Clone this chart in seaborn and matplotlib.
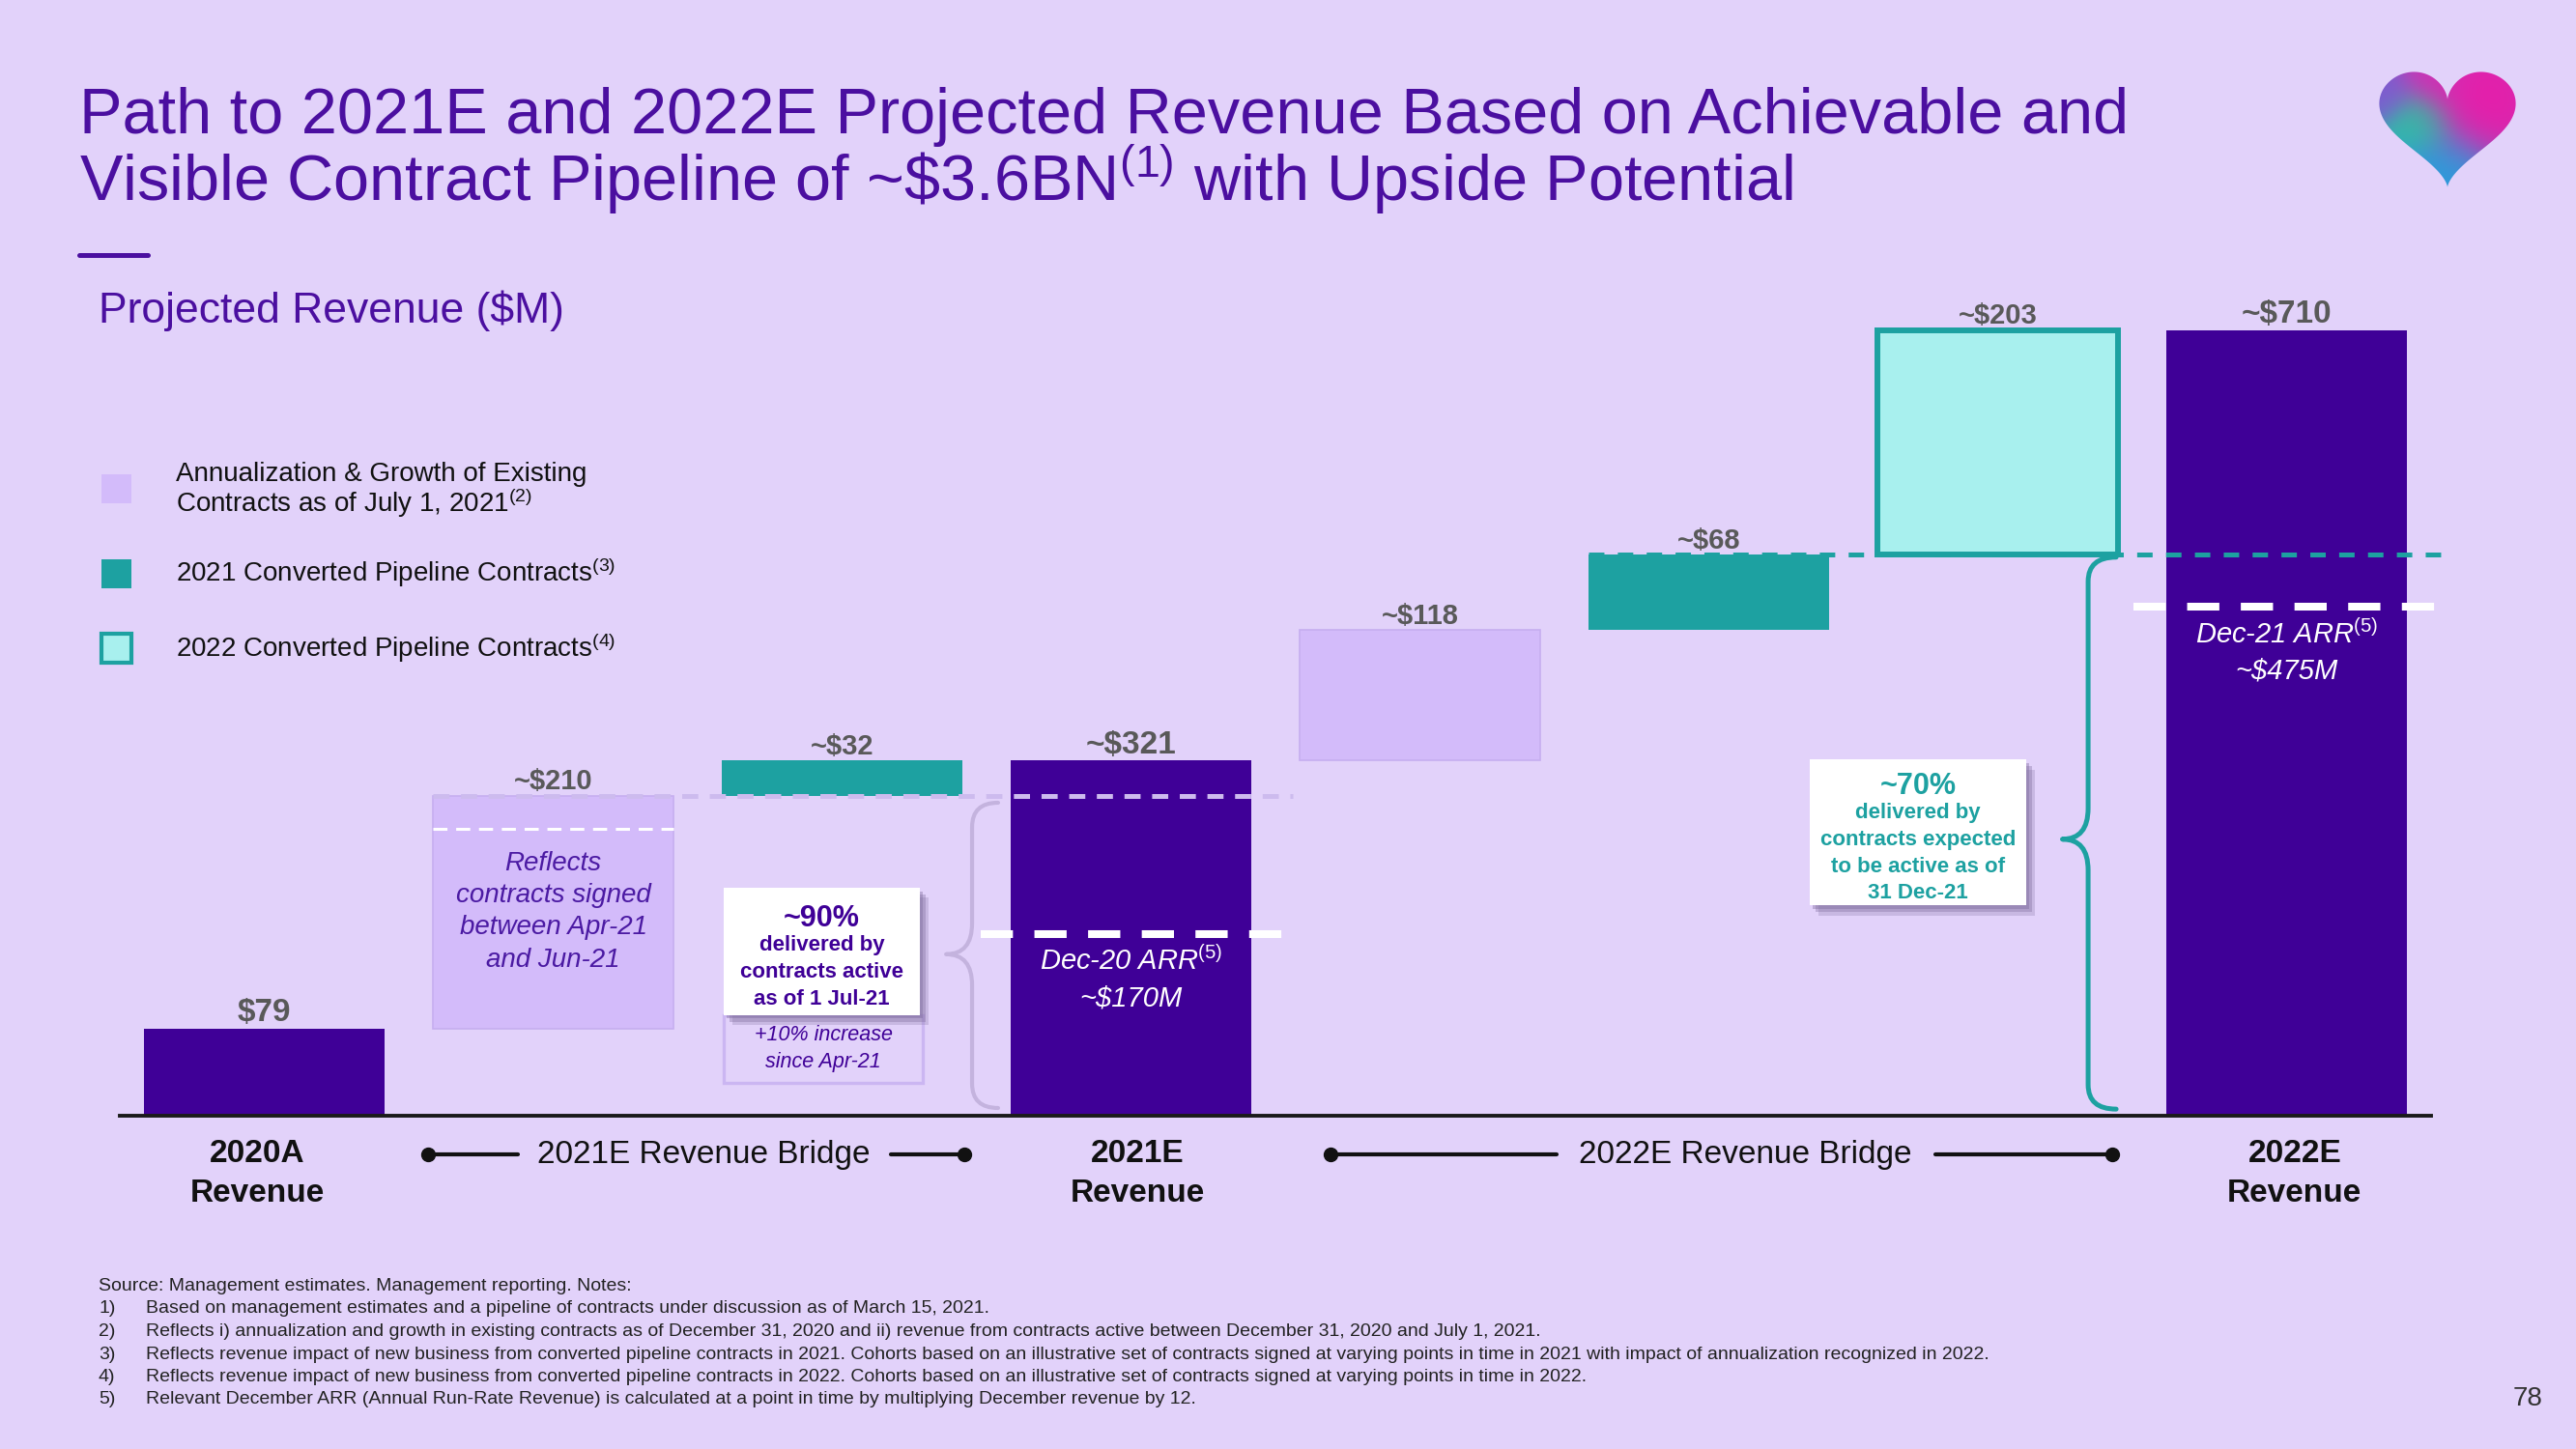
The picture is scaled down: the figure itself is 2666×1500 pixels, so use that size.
import numpy as np
import pandas as pd
import seaborn as sns
import matplotlib.pyplot as plt
from matplotlib.patches import Rectangle, PathPatch, Polygon
from matplotlib.path import Path
from matplotlib.lines import Line2D

# ---- data ($M) ----
steps = ["2020A", "Growth 2021", "Pipeline 2021", "2021E",
         "Growth 2022", "Pipeline 2021 run-rate", "Pipeline 2022", "2022E"]
values = [79, 210, 32, 321, 118, 68, 203, 710]
kinds = ["total", "growth", "pipe21", "total", "growth", "pipe21", "pipe22", "total"]
value_labels = ["$79", "~$210", "~$32", "~$321", "~$118", "~$68", "~$203", "~$710"]
tick_labels = ["2020A\nRevenue", "2021E\nRevenue", "2022E\nRevenue"]
arr_levels = [164, 460]     # Dec-20 / Dec-21 ARR markers
signed_level = 259          # contracts signed Apr-21..Jun-21 split

legend_labels = ["Annualization & Growth of Existing",
                 "Contracts as of July 1, 2021$^{(2)}$",
                 "2021 Converted Pipeline Contracts$^{(3)}$",
                 "2022 Converted Pipeline Contracts$^{(4)}$"]
footnotes = [
    ("", "Source: Management estimates. Management reporting. Notes:"),
    ("1)", "Based on management estimates and a pipeline of contracts under discussion as of March 15, 2021."),
    ("2)", "Reflects i) annualization and growth in existing contracts as of December 31, 2020 and ii) revenue from contracts active between December 31, 2020 and July 1, 2021."),
    ("3)", "Reflects revenue impact of new business from converted pipeline contracts in 2021. Cohorts based on an illustrative set of contracts signed at varying points in time in 2021 with impact of annualization recognized in 2022."),
    ("4)", "Reflects revenue impact of new business from converted pipeline contracts in 2022. Cohorts based on an illustrative set of contracts signed at varying points in time in 2022."),
    ("5)", "Relevant December ARR (Annual Run-Rate Revenue) is calculated at a point in time by multiplying December revenue by 12."),
]

BG = "#E2D2FA"
DARK = "#3F0097"
LAV = "#D3BBFA"
TEAL = "#1DA1A1"
CYAN = "#A8F0EE"
TITLE = "#4B0FA0"
GRAY = "#595959"
colors = {"total": (DARK, DARK, 0), "growth": (LAV, "#C6AEF0", 1.2),
          "pipe21": (TEAL, TEAL, 0), "pipe22": (CYAN, TEAL, 4.3)}

sns.set_style("white")
plt.rcParams["font.family"] = ["Liberation Sans", "DejaVu Sans"]
plt.rcParams["mathtext.fontset"] = "custom"
plt.rcParams["mathtext.rm"] = "Liberation Sans"
plt.rcParams["mathtext.it"] = "Liberation Sans:italic"
plt.rcParams["mathtext.bf"] = "Liberation Sans:bold"
plt.rcParams["lines.scale_dashes"] = False

# waterfall bottoms
bottoms = []
run = 0
for v, k in zip(values, kinds):
    if k == "total":
        bottoms.append(0)
        run = v
    else:
        bottoms.append(run)
        run += v
df = pd.DataFrame({"step": steps, "value": values, "bottom": bottoms,
                   "kind": kinds, "label": value_labels})

W, H = 2666, 1500
PXU = 1.145  # pixels per $M
fig = plt.figure(figsize=(W / 100, H / 100), dpi=100, facecolor=BG)
ax = fig.add_axes([124 / W, 1 - 1155 / H, 2392 / W, 780 * PXU / H])
ax.set_facecolor("none")

for k in ["total", "growth", "pipe21", "pipe22"]:
    sub = df[df.kind == k]
    fc, ec, lw = colors[k]
    sns.barplot(data=sub, x="step", y="value", order=steps, color=fc,
                saturation=1, width=0.83, errorbar=None, ax=ax,
                bottom=sub["bottom"].values, edgecolor=ec, linewidth=lw, zorder=2)
    big = k == "total"
    ax.bar_label(ax.containers[-1], labels=list(sub["label"]), padding=0.5,
                 fontsize=24 if big else 21, fontweight="bold", color=GRAY)

ax.set_xlim(-0.5, 7.5)
ax.set_ylim(0, 780)
ax.set_xlabel("")
ax.set_ylabel("")
ax.set_yticks([])
ax.set_xticks([-0.023, 3.023, 7.028], tick_labels, fontsize=24, fontweight="bold",
              color="#111111", linespacing=1.43)
ax.tick_params(axis="x", length=0, pad=17)
for s in ["top", "left", "right"]:
    ax.spines[s].set_visible(False)
ax.spines["bottom"].set_linewidth(2.8)
ax.spines["bottom"].set_color("#1a1a1a")
ax.spines["bottom"].set_zorder(6)

hw = 0.415
lvl21 = values[0] + values[1]
lvl22 = values[3] + values[4] + values[5]
# dashed guide lines
ax.plot([1 - hw, 3.56], [lvl21, lvl21], color="#CDBBEE", lw=3.6,
        ls=(0, (12, 8.6)), zorder=3, clip_on=False)
ax.plot([1 - hw, 1 + hw], [signed_level] * 2, color="white", lw=2.2,
        ls=(0, (10.5, 6.5)), zorder=3)
ax.plot([2.48, 3.56], [arr_levels[0]] * 2, color="white", lw=5.8,
        ls=(0, (24, 16)), zorder=4, clip_on=False)
ax.plot([5 - hw, 7.55], [lvl22, lvl22], color=TEAL, lw=3.6,
        ls=(0, (11.5, 10)), zorder=3, clip_on=False)
ax.plot([6.47, 7.55], [arr_levels[1]] * 2, color="white", lw=5.8,
        ls=(0, (24, 16)), zorder=4, clip_on=False)


def brace(xh, xv, xt, ytop, ybot, ymid, color, lw):
    rx = 22
    rt = 28
    verts = [(xh, ytop), (xv, ytop), (xv, ytop - rx), (xv, ymid + rt),
             (xv, ymid), (xt, ymid), (xv, ymid), (xv, ymid - rt),
             (xv, ybot + rx), (xv, ybot), (xh, ybot)]
    codes = [Path.MOVETO, Path.CURVE3, Path.CURVE3, Path.LINETO,
             Path.CURVE3, Path.CURVE3, Path.CURVE3, Path.CURVE3,
             Path.LINETO, Path.CURVE3, Path.CURVE3]
    ax.add_patch(PathPatch(Path(verts, codes), fc="none", ec=color, lw=lw,
                           capstyle="round", joinstyle="round", zorder=3,
                           clip_on=False))


brace(2.54, 2.45, 2.36, 283, 7, 146, "#C4B3DE", 3.0)
brace(6.41, 6.313, 6.224, 505, 6, 250, TEAL, 3.6)


def callout(x0, x1, y0, y1):
    for off, a in [(0.03, 0.25), (0.02, 0.35), (0.01, 0.4)]:
        ax.add_patch(Rectangle((x0 + off, y0 - off * 300), x1 - x0, y1 - y0,
                               fc="#7E6C9C", ec="none", alpha=a, zorder=4))
    ax.add_patch(Rectangle((x0, y0), x1 - x0, y1 - y0, fc="white",
                           ec="none", zorder=5))


# ~90% callout
ax.add_patch(Rectangle((1.59, 30), 0.69, 61, fc=BG, ec="#CBB6F2", lw=2.4, zorder=3))
callout(1.59, 2.27, 91, 206)
ax.text(1.93, 178, "~90%", ha="center", va="center", fontsize=22,
        fontweight="bold", color=DARK, zorder=6)
ax.text(1.93, 129.5, "delivered by\ncontracts active\nas of 1 Jul-21", ha="center",
        va="center", fontsize=16, fontweight="bold", color=DARK,
        linespacing=1.43, zorder=6)
ax.text(1.935, 61, "+10% increase\nsince Apr-21", ha="center", va="center",
        fontsize=15.5, style="italic", color=DARK, linespacing=1.43, zorder=6)

# ~70% callout
callout(5.35, 6.10, 190, 322)
ax.text(5.725, 297.5, "~70%", ha="center", va="center", fontsize=22,
        fontweight="bold", color=TEAL, zorder=6)
ax.text(5.725, 237.5, "delivered by\ncontracts expected\nto be active as of\n31 Dec-21",
        ha="center", va="center", fontsize=16, fontweight="bold", color=TEAL,
        linespacing=1.43, zorder=6)

ax.text(1, 184.5, "Reflects\ncontracts signed\nbetween Apr-21\nand Jun-21", ha="center",
        va="center", fontsize=20, style="italic", color="#4B1AA3",
        linespacing=1.37, zorder=6)
ax.text(3, 132, "Dec-20 ARR$^{(5)}$", ha="center", va="baseline", fontsize=21,
        style="italic", color="white", zorder=6)
ax.text(3, 99, "~$170M", ha="center", va="baseline", fontsize=21,
        style="italic", color="white", zorder=6)
ax.text(7, 427.5, "Dec-21 ARR$^{(5)}$", ha="center", va="baseline", fontsize=21,
        style="italic", color="white", zorder=6)
ax.text(7, 395.5, "~$475M", ha="center", va="baseline", fontsize=21,
        style="italic", color="white", zorder=6)

# bridge markers under the axis
yb = -35
for (a, b), (c, d), xc, txt in [((0.567, 0.878), (2.169, 2.423), 1.52, "2021E Revenue Bridge"),
                                ((3.69, 4.474), (5.784, 6.396), 5.125, "2022E Revenue Bridge")]:
    ax.plot([a, b], [yb, yb], color="#111111", lw=3, clip_on=False)
    ax.plot([c, d], [yb, yb], color="#111111", lw=3, clip_on=False)
    ax.plot([a, d], [yb, yb], ls="none", marker="o", ms=10, color="#111111",
            clip_on=False)
    ax.text(xc, yb, txt, ha="center", va="center", fontsize=24, color="#111111")


def fx(x):
    return x / W


def fy(y):
    return 1 - y / H


# title and slide text
fig.text(fx(82), fy(138), "Path to 2021E and 2022E Projected Revenue Based on Achievable and",
         fontsize=48, color=TITLE, va="baseline")
fig.text(fx(82), fy(208), r"Visible Contract Pipeline of ~\$3.6BN$^{(1)}$ with Upside Potential",
         fontsize=48, color=TITLE, va="baseline")
fig.add_artist(Line2D([fx(82), fx(153)], [fy(264), fy(264)], color=TITLE, lw=3.6))
fig.text(fx(102), fy(334), "Projected Revenue ($M)", fontsize=32, color=TITLE, va="baseline")

# legend
leg_sq = [(490, LAV, LAV, 0), (578, TEAL, TEAL, 0), (655, CYAN, TEAL, 3)]
for top, fc, ec, lw in leg_sq:
    fig.add_artist(Rectangle((fx(105), fy(top + 31)), 31 / W, 30 / H, fc=fc,
                             ec=ec, lw=lw, transform=fig.transFigure))
for yy, txt in zip([498, 530, 602, 680], legend_labels):
    fig.text(fx(182), fy(yy), txt, fontsize=20, color="#111111", va="baseline")

# footnotes
for yy, (num, txt) in zip([1336, 1359, 1383, 1407, 1430, 1453], footnotes):
    if num:
        fig.text(fx(102), fy(yy), num, fontsize=14, color="#222222", va="baseline")
        fig.text(fx(151), fy(yy), txt, fontsize=14, color="#222222", va="baseline")
    else:
        fig.text(fx(102), fy(yy), txt, fontsize=14, color="#222222", va="baseline")
fig.text(fx(2616), fy(1455), "78", fontsize=20, color="#333333", ha="center",
         va="baseline")

# heart logo
hax = fig.add_axes([2458 / W, 1 - 198 / H, 150 / W, 128 / H])
t = np.linspace(0, 2 * np.pi, 400)
hx = 16 * np.sin(t) ** 3
hy = 13 * np.cos(t) - 5 * np.cos(2 * t) - 2 * np.cos(3 * t) - np.cos(4 * t)
gx, gy = np.meshgrid(np.linspace(-17, 17, 240), np.linspace(-18, 13, 220))
blobs = [((7, 4), 8, (0.93, 0.10, 0.66), 1.0),
         ((-7, -1), 4.5, (0.15, 0.80, 0.62), 1.0),
         ((-15, 6), 4, (0.50, 0.35, 0.82), 0.9),
         ((-2, -13), 7, (0.16, 0.62, 0.86), 0.9),
         ((-3, 10), 5, (0.80, 0.20, 0.72), 0.6)]
num = np.zeros(gx.shape + (3,))
den = np.zeros(gx.shape) + 0.05
for (cx, cy), s, c, wgt in blobs:
    w = wgt * np.exp(-((gx - cx) ** 2 + (gy - cy) ** 2) / (2 * s ** 2))
    num += w[..., None] * np.array(c)
    den += w
num += 0.05 * np.array((0.25, 0.55, 0.85))
img = np.clip(num / den[..., None], 0, 1)
heart = Polygon(np.c_[hx, hy], closed=True, fc="none", ec="none")
hax.add_patch(heart)
im = hax.imshow(img, extent=(-17, 17, -18, 13), origin="lower", interpolation="bilinear")
im.set_clip_path(heart)
hax.set_xlim(-17, 17)
hax.set_ylim(-18, 13)
hax.set_aspect("auto")
hax.axis("off")

fig.savefig("out.png", dpi=100, facecolor=BG)
